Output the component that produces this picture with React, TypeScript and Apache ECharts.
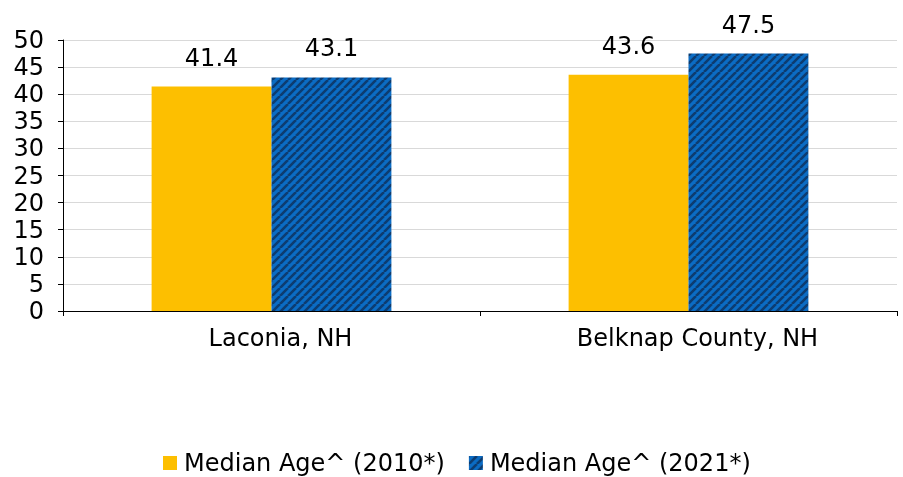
import React, { useEffect, useRef } from "react";
import * as echarts from "echarts";

const categories = ["Laconia, NH", "Belknap County, NH"];
const series2010 = [41.4, 43.6];
const series2021 = [43.1, 47.5];
const seriesNames = ["Median Age^ (2010*)", "Median Age^ (2021*)"];

function makeHatch(): string {
  const c = document.createElement("canvas");
  const s = 8;
  c.width = s;
  c.height = s;
  const ctx = c.getContext("2d")!;
  ctx.fillStyle = "#0b6cc4";
  ctx.fillRect(0, 0, s, s);
  ctx.strokeStyle = "#0d3c70";
  ctx.lineWidth = 2.6;
  ctx.beginPath();
  for (let k = -1; k <= 1; k++) {
    ctx.moveTo(k * s, s);
    ctx.lineTo(k * s + s, 0);
  }
  ctx.stroke();
  return c.toDataURL();
}

export default function App() {
  const ref = useRef<HTMLDivElement>(null);
  useEffect(() => {
    if (!ref.current) return;
    const chart = echarts.init(ref.current, undefined, { renderer: "svg" });
    const hatch = { image: makeHatch(), repeat: "repeat" } as any;
    const font = "DejaVu Sans";
    const label = {
      show: true,
      position: "top",
      distance: 17,
      fontSize: 24,
      color: "#000",
      fontFamily: font,
      formatter: (p: any) => p.value.toFixed(1),
    };
    chart.setOption({
      animation: false,
      textStyle: { fontFamily: font },
      grid: { left: 63, right: 6, top: 40, bottom: 166, containLabel: false },
      legend: {
        top: 451,
        left: 163,
        padding: 0,
        itemWidth: 14,
        itemHeight: 14,
        itemGap: 24,
        icon: "rect",
        textStyle: {
          fontSize: 24,
          lineHeight: 24,
          color: "#000",
          fontFamily: font,
          padding: [0, 0, 0, 2],
        },
        data: [
          { name: seriesNames[0], itemStyle: { color: "#fdbf00" } },
          { name: seriesNames[1], itemStyle: { color: hatch } },
        ],
      },
      xAxis: {
        type: "category",
        data: categories,
        axisLine: { lineStyle: { color: "#000" } },
        axisTick: { show: true, length: 5, lineStyle: { color: "#000" } },
        axisLabel: {
          fontSize: 24,
          color: "#000",
          margin: 15,
          fontFamily: font,
          padding: [0, 0, 0, 18],
        },
      },
      yAxis: {
        type: "value",
        min: 0,
        max: 50,
        interval: 5,
        axisLine: { show: true, lineStyle: { color: "#000" } },
        axisTick: { show: true, length: 5, lineStyle: { color: "#000" } },
        axisLabel: { fontSize: 24, color: "#000", margin: 19, fontFamily: font },
        splitLine: { lineStyle: { color: "#d9d9d9" } },
      },
      series: [
        {
          name: seriesNames[0],
          type: "bar",
          data: series2010,
          barGap: "0%",
          barCategoryGap: "42.5%",
          itemStyle: { color: "#fdbf00" },
          label,
        },
        {
          name: seriesNames[1],
          type: "bar",
          data: series2021,
          barGap: "0%",
          barCategoryGap: "42.5%",
          itemStyle: { color: hatch },
          label,
        },
      ],
    });
    return () => chart.dispose();
  }, []);
  return (
    <div
      ref={ref}
      style={{ position: "fixed", left: 0, top: 0, width: 903, height: 477 }}
    />
  );
}
